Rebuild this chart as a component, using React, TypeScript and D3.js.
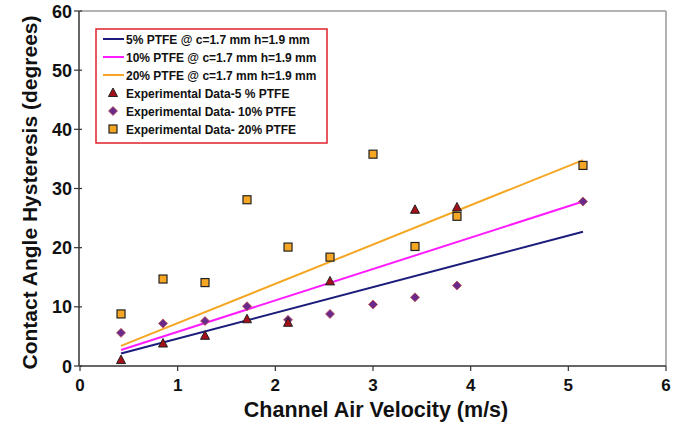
import React from "react";
import * as d3 from "d3";

const W = 685, H = 427;
const M = { left: 80, right: 666, top: 11, bottom: 366 };

const xTicks = [0, 1, 2, 3, 4, 5, 6];
const yTicks = [0, 10, 20, 30, 40, 50, 60];

const lineX = [0.42, 5.15];
const line5 = [2.1, 22.7];
const line10 = [2.7, 27.8];
const line20 = [3.4, 34.8];

const expX = [0.42, 0.85, 1.28, 1.71, 2.13, 2.56, 3.0, 3.43, 3.86, 5.15];
const exp5 = [1.0, 3.8, 5.1, 7.9, 7.3, 14.3, null, 26.4, 26.8, null];
const exp10 = [5.6, 7.2, 7.6, 10.1, 7.8, 8.8, 10.4, 11.6, 13.6, 27.8];
const exp20 = [8.8, 14.7, 14.1, 28.1, 20.1, 18.4, 35.8, 20.2, 25.3, 33.9];

const legendLabels = [
  "5% PTFE @ c=1.7 mm h=1.9 mm",
  "10% PTFE @ c=1.7 mm h=1.9 mm",
  "20% PTFE @ c=1.7 mm h=1.9 mm",
  "Experimental Data-5 % PTFE",
  "Experimental Data- 10% PTFE",
  "Experimental Data- 20% PTFE",
];

const C5 = "#1c1c7c";
const C10 = "#ff1cff";
const C20 = "#f5a623";

export default function App() {
  const x = d3.scaleLinear().domain([0, 6]).range([M.left, M.right]);
  const y = d3.scaleLinear().domain([0, 60]).range([M.bottom, M.top]);
  const mk = (vals: number[]) =>
    d3.line<number>().x((_, i) => x(lineX[i])).y((v) => y(v))(vals) || "";

  const tri = (cx: number, cy: number, k: string) => (
    <path key={k} d={`M${cx},${cy - 5} L${cx + 4.5},${cy + 3.5} L${cx - 4.5},${cy + 3.5} Z`} fill="#a3101a" stroke="#222" strokeWidth={1} />
  );
  const dia = (cx: number, cy: number, k: string) => (
    <path key={k} d={`M${cx},${cy - 4.5} L${cx + 4.5},${cy} L${cx},${cy + 4.5} L${cx - 4.5},${cy} Z`} fill="#6a2a8c" stroke="#c0504d" strokeWidth={0.8} />
  );
  const sq = (cx: number, cy: number, k: string) => (
    <rect key={k} x={cx - 4} y={cy - 4} width={8} height={8} fill="#f5a623" stroke="#222" strokeWidth={1.2} />
  );

  const font = "'Liberation Sans', Arial, sans-serif";
  const legX = 96, legY = 29;
  const rowY = (i: number) => legY + 10 + i * 18;

  return (
    <svg width={W} height={H} style={{ position: "absolute", left: 0, top: 0, background: "#fff" }} fontFamily={font}>
      {/* frame */}
      <line x1={M.left} x2={M.right} y1={M.top} y2={M.top} stroke="#999" strokeWidth={1.5} />
      <line x1={M.right} x2={M.right} y1={M.top} y2={M.bottom} stroke="#999" strokeWidth={1.5} />
      {/* axes */}
      <line x1={M.left} x2={M.right} y1={M.bottom} y2={M.bottom} stroke="#333" strokeWidth={1.5} />
      <line x1={M.left - 1} x2={M.left - 1} y1={M.top} y2={M.bottom} stroke="#333" strokeWidth={1.5} />
      {xTicks.map((t) => (
        <g key={"x" + t}>
          <line x1={x(t)} x2={x(t)} y1={M.bottom} y2={M.bottom + 5} stroke="#333" strokeWidth={1.2} />
          <text x={x(t)} y={M.bottom + 25} textAnchor="middle" fontSize={17} fontWeight="bold" fill="#111">{t}</text>
        </g>
      ))}
      {yTicks.map((t) => (
        <g key={"y" + t}>
          <line x1={M.left - 6} x2={M.left + 2} y1={y(t)} y2={y(t)} stroke="#333" strokeWidth={1.2} />
          <text x={M.left - 8} y={y(t) + 6.5} textAnchor="end" fontSize={18} fontWeight="bold" fill="#111">{t}</text>
        </g>
      ))}
      <text x={376} y={417} textAnchor="middle" fontSize={21.5} fontWeight="bold" fill="#111">Channel Air Velocity (m/s)</text>
      <text transform={`translate(37, 192.5) rotate(-90)`} textAnchor="middle" fontSize={21} fontWeight="bold" fill="#111">Contact Angle Hysteresis (degrees)</text>

      {/* model lines */}
      <path d={mk(line5)} stroke={C5} strokeWidth={2} fill="none" />
      <path d={mk(line10)} stroke={C10} strokeWidth={2} fill="none" />
      <path d={mk(line20)} stroke={C20} strokeWidth={2} fill="none" />

      {/* experimental */}
      {exp10.map((v, i) => (v == null ? null : dia(x(expX[i]), y(v), "d" + i)))}
      {exp5.map((v, i) => (v == null ? null : tri(x(expX[i]), y(v), "t" + i)))}
      {exp20.map((v, i) => (v == null ? null : sq(x(expX[i]), y(v), "s" + i)))}

      {/* legend */}
      <rect x={legX} y={legY} width={231} height={114} fill="#fff" stroke="#e0202a" strokeWidth={1.5} />
      {[C5, C10, C20].map((c, i) => (
        <line key={"ll" + i} x1={103} x2={124} y1={rowY(i)} y2={rowY(i)} stroke={c} strokeWidth={2} />
      ))}
      {tri(113, rowY(3), "lt")}
      {dia(113, rowY(4), "ld")}
      {sq(113, rowY(5), "ls")}
      {legendLabels.map((l, i) => (
        <text key={"lt" + i} x={126} y={rowY(i) + 4.5} fontSize={12} fontWeight="bold" fill="#111">{l}</text>
      ))}
    </svg>
  );
}
